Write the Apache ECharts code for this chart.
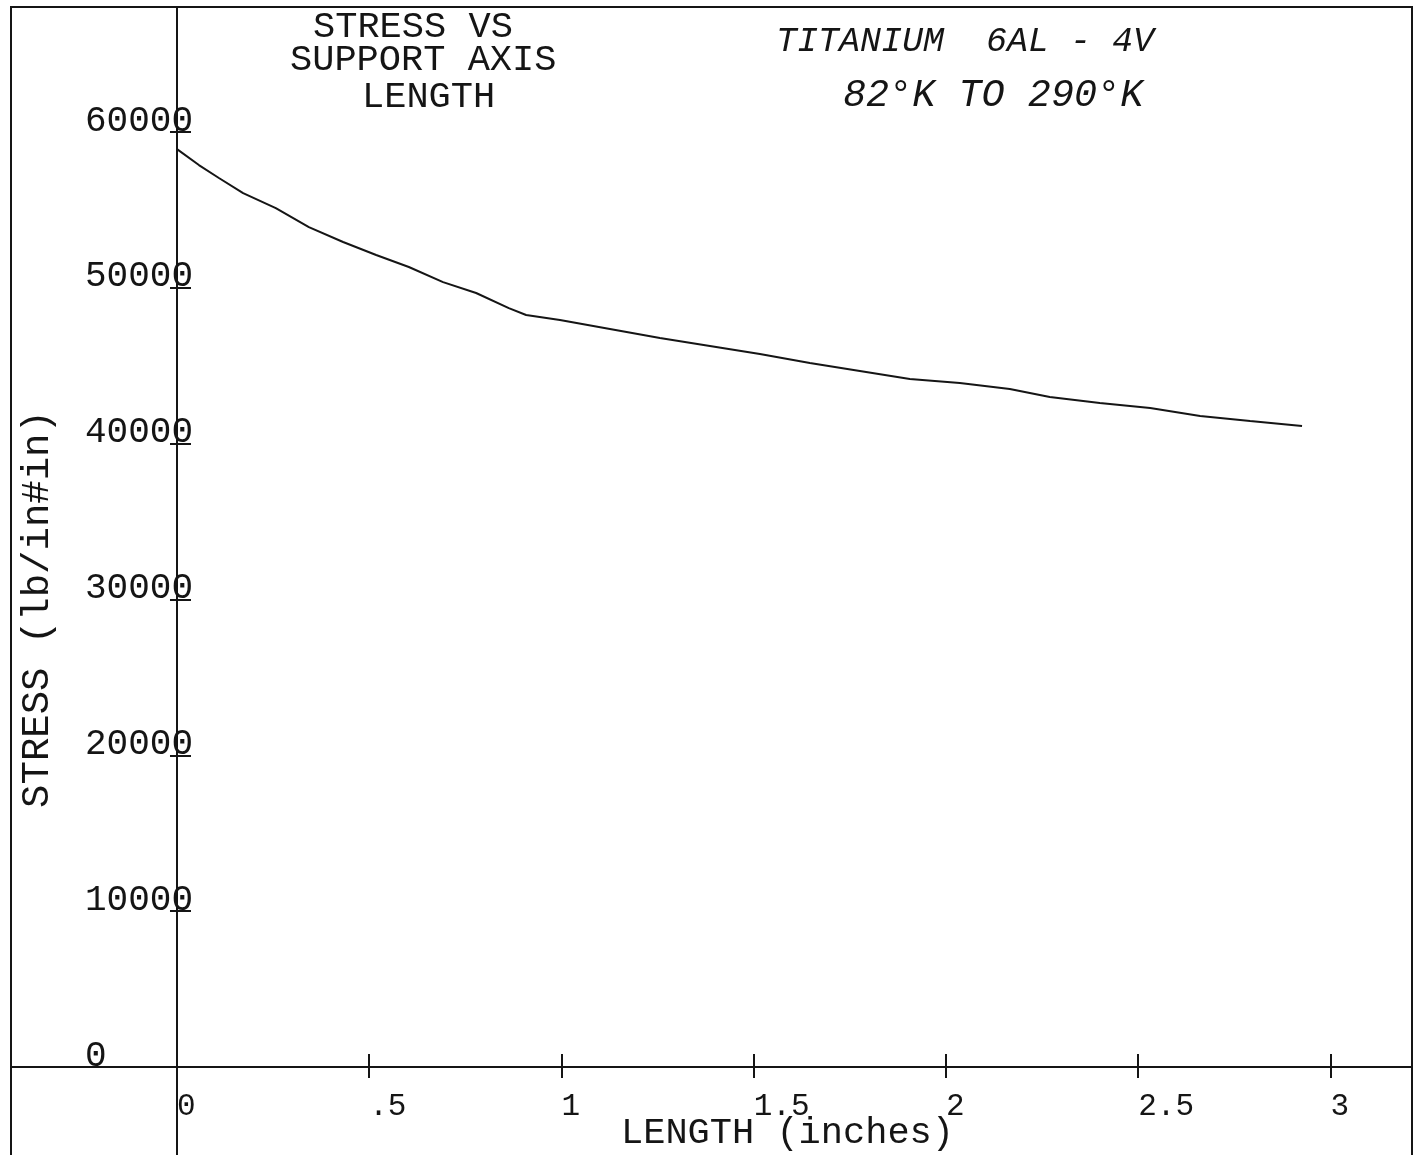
<!DOCTYPE html>
<html>
<head>
<meta charset="utf-8">
<script src="https://cdn.jsdelivr.net/npm/echarts@6/dist/echarts.min.js"></script>
<style>
  html, body { margin: 0; padding: 0; background: #ffffff; }
  #chart { width: 1416px; height: 1155px; }
</style>
</head>
<body>
<div id="chart"></div>
<script>
// ---- data ----
const lengthIn = [0.0, 0.057, 0.109, 0.172, 0.257, 0.343, 0.432, 0.518, 0.603, 0.692, 0.778, 0.863, 0.908,
                  0.996, 1.126, 1.256, 1.386, 1.516, 1.646, 1.776, 1.906, 2.036, 2.166, 2.270, 2.400,
                  2.531, 2.661, 2.791, 2.926];
const stressPsi = [58900, 57880, 57050, 56080, 55120, 53900, 52940, 52110, 51340, 50370, 49670, 48700, 48260,
                   47940, 47360, 46780, 46270, 45750, 45180, 44660, 44150, 43890, 43510, 42990, 42610,
                   42290, 41770, 41450, 41130];
const xTickValues = [0, 0.5, 1, 1.5, 2, 2.5, 3];
const xTickLabels = ['0', '.5', '1', '1.5', '2', '2.5', '3'];
const yTickValues = [0, 10000, 20000, 30000, 40000, 50000, 60000];
const yTickLabels = ['0', '10000', '20000', '30000', '40000', '50000', '60000'];
const titleLines = ['STRESS VS', 'SUPPORT AXIS', 'LENGTH'];
const noteLines = ['TITANIUM  6AL - 4V', '82°K TO 290°K'];
const xAxisName = 'LENGTH (inches)';
const yAxisName = 'STRESS (lb/in#in)';

// visible plot window of the plotter frame (axis extents)
const xMin = -0.4317, xMax = 3.2120;
const yMin = -5647, yMax = 68023;

const MONO = '"Liberation Mono", "DejaVu Sans Mono", monospace';
const INK = '#151515';

const seriesData = lengthIn.map((x, i) => [x, stressPsi[i]]);

function lookup(values, labels, v) {
  for (let i = 0; i < values.length; i++) {
    if (Math.abs(values[i] - v) < 1e-6 * Math.max(1, Math.abs(v))) return labels[i];
  }
  return '';
}

const chart = echarts.init(document.getElementById('chart'), null, { renderer: 'canvas' });
const axisLineStyle = { color: INK, width: 2 };
const titleStyle = { fontFamily: MONO, fontSize: 37, fontWeight: 'normal', color: INK, lineHeight: 37 };
const titleLeft = [313, 290, 362];
const titleTop = [9, 42, 79];

const option = {
  backgroundColor: '#ffffff',
  animation: false,
  title: titleLines.map((t, i) => ({
    text: t, left: titleLeft[i], top: titleTop[i], padding: 0, textStyle: titleStyle
  })),
  grid: {
    left: 11, right: 4, top: 7, bottom: 0,
    containLabel: false, outerBoundsMode: 'none'
  },
  xAxis: [
    {
      type: 'value', min: xMin, max: xMax, position: 'bottom',
      axisLine: { show: true, onZero: true, onZeroAxisIndex: 0, lineStyle: axisLineStyle },
      axisTick: { show: true, inside: false, length: 11, lineStyle: axisLineStyle, customValues: xTickValues },
      axisLabel: { show: true, customValues: xTickValues, formatter: (v) => lookup(xTickValues, xTickLabels, v),
                   align: 'left', margin: -64, fontFamily: MONO, fontSize: 31, color: INK,
                   showMinLabel: true, showMaxLabel: true, hideOverlap: false },
      splitLine: { show: false },
      name: xAxisName, nameLocation: 'middle', nameGap: -40, nameMoveOverlap: false,
      nameTextStyle: { fontFamily: MONO, fontSize: 37, color: INK, padding: [0, 0, 0, 152] }
    },
    {
      type: 'value', min: xMin, max: xMax, position: 'top',
      axisLine: { show: false, onZero: true, onZeroAxisIndex: 0 },
      axisTick: { show: true, inside: false, length: 13, lineStyle: axisLineStyle, customValues: xTickValues },
      axisLabel: { show: false },
      splitLine: { show: false }
    }
  ],
  yAxis: [
    {
      type: 'value', min: yMin, max: yMax, position: 'left',
      axisLine: { show: true, onZero: true, onZeroAxisIndex: 0, lineStyle: axisLineStyle },
      axisTick: { show: true, inside: false, length: 7, lineStyle: axisLineStyle, customValues: yTickValues },
      axisLabel: { show: true, customValues: yTickValues, formatter: (v) => lookup(yTickValues, yTickLabels, v),
                   align: 'left', verticalAlign: 'bottom', lineHeight: 22, margin: -74,
                   fontFamily: MONO, fontSize: 36, color: INK,
                   showMinLabel: true, showMaxLabel: true, hideOverlap: false },
      splitLine: { show: false },
      name: yAxisName, nameLocation: 'middle', nameGap: -46, nameMoveOverlap: false,
      nameTextStyle: { fontFamily: MONO, fontSize: 39, color: INK, padding: [0, 56, 0, 0] }
    },
    {
      type: 'value', min: yMin, max: yMax, position: 'right',
      axisLine: { show: false, onZero: true, onZeroAxisIndex: 0 },
      axisTick: { show: true, inside: false, length: 14, lineStyle: axisLineStyle, customValues: yTickValues },
      axisLabel: { show: false },
      splitLine: { show: false }
    }
  ],
  series: [
    {
      type: 'line', xAxisIndex: 0, yAxisIndex: 0,
      data: seriesData,
      showSymbol: false, symbol: 'none', smooth: false,
      lineStyle: { color: INK, width: 2 }
    }
  ],
  graphic: [
    // plotter frame
    { type: 'polyline', z: 101, shape: { points: [[11, 1155], [11, 7], [1412, 7], [1412, 1155]] },
      style: { stroke: INK, lineWidth: 2, fill: null } },
    // handwritten notes
    { type: 'text', z: 101, x: 776, y: 24,
      style: { text: noteLines[0], fontFamily: MONO, fontSize: 35, fontStyle: 'italic', fill: INK,
               verticalAlign: 'top', align: 'left' } },
    { type: 'text', z: 101, x: 843, y: 76,
      style: { text: noteLines[1], fontFamily: MONO, fontSize: 38.5, fontStyle: 'italic', fill: INK,
               verticalAlign: 'top', align: 'left' } }
  ]
};

chart.setOption(option);
</script>
</body>
</html>
